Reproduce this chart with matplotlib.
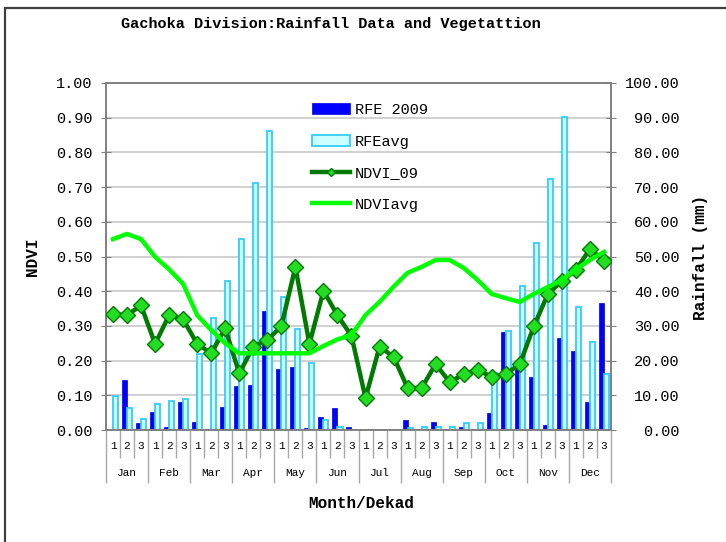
import matplotlib
matplotlib.use('Agg')
import matplotlib.pyplot as plt
from matplotlib.patches import Rectangle
from matplotlib.ticker import FormatStrFormatter, MultipleLocator

plt.rcParams['font.family'] = ['Liberation Mono', 'DejaVu Sans Mono']

months = ['Jan', 'Feb', 'Mar', 'Apr', 'May', 'Jun',
          'Jul', 'Aug', 'Sep', 'Oct', 'Nov', 'Dec']
dekads = ['1', '2', '3'] * 12

# rainfall in mm per dekad
rfe_2009 = [0, 14.4, 2.0, 5.2, 1.0, 8.0, 2.4, 0, 6.6, 12.7, 13.1, 34.3,
            17.6, 18.2, 0.6, 3.7, 6.3, 1.0, 0, 0, 0, 2.9, 0, 2.4,
            0, 0.9, 0, 4.8, 28.3, 17.8, 15.3, 1.4, 26.4, 22.8, 8.0, 36.5]
rfe_avg = [9.8, 6.4, 3.3, 7.5, 8.4, 8.8, 21.8, 32.3, 42.9, 54.9, 71.1, 86.2,
           38.3, 29.1, 19.3, 2.9, 1.0, 0, 0, 0, 0, 0.5, 1.0, 1.0,
           1.0, 2.0, 2.0, 16.3, 28.6, 41.6, 54.0, 72.3, 90.3, 35.5, 25.5, 16.1]

# NDVI per dekad
ndvi_09 = [0.334, 0.331, 0.359, 0.248, 0.331, 0.319, 0.248, 0.221, 0.293,
           0.163, 0.240, 0.259, 0.299, 0.470, 0.248, 0.401, 0.331, 0.271,
           0.092, 0.240, 0.211, 0.121, 0.121, 0.190, 0.138, 0.161, 0.173,
           0.153, 0.161, 0.190, 0.299, 0.392, 0.429, 0.461, 0.522, 0.487]
ndvi_avg = [0.550, 0.565, 0.550, 0.499, 0.463, 0.421, 0.331, 0.288, 0.250,
            0.221, 0.221, 0.221, 0.221, 0.221, 0.221, 0.242, 0.261, 0.274,
            0.331, 0.369, 0.413, 0.453, 0.470, 0.490, 0.490, 0.467, 0.432,
            0.392, 0.380, 0.369, 0.392, 0.412, 0.432, 0.463, 0.490, 0.513]


def main():
    W, H = 726, 542
    fig = plt.figure(figsize=(W / 100, H / 100), dpi=100)
    fig.patch.set_facecolor('white')

    # outer chart border (only top and left visible in the original)
    fig.patches.append(Rectangle((5 / W, -0.5), 2, 1.5 - 8 / H, transform=fig.transFigure,
                                 fill=False, edgecolor='#404040', linewidth=1.6))

    ax = fig.add_axes([106 / W, 1 - 430 / H, 505 / W, 347 / H])
    ax2 = ax.twinx()
    x = list(range(len(rfe_2009)))

    # rainfall bars on the primary axes (scale shown on the right)
    ax.bar([i - 0.18 for i in x], rfe_2009, width=0.36, color='#0000FF',
           edgecolor='#0000DD', linewidth=0.5, zorder=2)
    ax.bar([i + 0.18 for i in x], rfe_avg, width=0.36, color='#CCFFFF',
           edgecolor='#33CCFF', linewidth=1.3, zorder=2)
    ax.set_ylim(0, 100)
    ax.set_xlim(-0.5, len(x) - 0.5)
    ax.yaxis.set_major_locator(MultipleLocator(10))
    ax.yaxis.set_major_formatter(FormatStrFormatter('%.2f'))
    ax.grid(axis='y', color='#C8C8C8', linewidth=1.2, zorder=0)
    ax.set_axisbelow(True)

    # NDVI lines on the twin axes (scale shown on the left)
    ax2.plot(x, ndvi_09, color='#007A00', linewidth=3.2, marker='D', markersize=8,
             markerfacecolor='#22DD22', markeredgecolor='#007A00', markeredgewidth=1,
             zorder=3, label='NDVI_09')
    ax2.plot(x, ndvi_avg, color='#00FF00', linewidth=3.2, zorder=4, label='NDVIavg')
    ax2.set_ylim(0, 1)
    ax2.yaxis.set_major_locator(MultipleLocator(0.1))
    ax2.yaxis.set_major_formatter(FormatStrFormatter('%.2f'))

    # swap sides: rainfall on the right, NDVI on the left
    ax.yaxis.tick_right()
    ax2.yaxis.tick_left()
    ax.tick_params(axis='y', direction='inout', length=7, color='#808080',
                   labelsize=11, pad=46)
    for lbl in ax.get_yticklabels():
        lbl.set_horizontalalignment('right')
    ax2.tick_params(axis='y', direction='inout', length=7, color='#808080',
                    labelsize=11, pad=6)

    for a in (ax, ax2):
        for s in a.spines.values():
            s.set_color('#808080')
            s.set_linewidth(1.2)

    # category axis: dekad separators (minor) and month separators (major)
    ax.set_xticks([i - 0.5 for i in range(0, 37, 3)])
    ax.set_xticks([i - 0.5 for i in range(37)], minor=True)
    ax.tick_params(axis='x', which='major', length=38, width=1, color='#A8A8A8',
                   labelbottom=False)
    ax.tick_params(axis='x', which='minor', length=20, width=1, color='#A8A8A8')
    for i, d in enumerate(dekads):
        ax.annotate(d, xy=(i, 0), xycoords=('data', 'axes fraction'),
                    xytext=(0, -11.5), textcoords='offset points',
                    ha='center', va='center', fontsize=8)
    for m, name in enumerate(months):
        ax.annotate(name, xy=(3 * m + 1, 0), xycoords=('data', 'axes fraction'),
                    xytext=(0, -31), textcoords='offset points',
                    ha='center', va='center', fontsize=8)

    fig.text(331 / W, 1 - 24 / H, 'Gachoka Division:Rainfall Data and Vegetattion',
             ha='center', va='center', fontsize=11, fontweight='bold')
    fig.text(361 / W, 1 - 504 / H, 'Month/Dekad', ha='center', va='center',
             fontsize=11.5, fontweight='bold')
    fig.text(33 / W, 1 - 257 / H, 'NDVI', ha='center', va='center', rotation=90,
             fontsize=11.5, fontweight='bold')
    fig.text(700 / W, 1 - 257 / H, 'Rainfall (mm)', ha='center', va='center',
             rotation=90, fontsize=11.5, fontweight='bold')

    bars = ax.containers
    lines = ax2.get_lines()
    fig.legend([bars[0], bars[1], lines[0], lines[1]],
               ['RFE 2009', 'RFEavg', 'NDVI_09', 'NDVIavg'],
               loc='upper left', bbox_to_anchor=(312 / W, 1 - 103 / H),
               frameon=False, fontsize=11, handlelength=2.5, handleheight=0.7,
               handletextpad=0.3, labelspacing=1.15, borderpad=0, borderaxespad=0,
               markerscale=0.55)

    fig.savefig('out.png', dpi=100)


if __name__ == "__main__":
    main()
